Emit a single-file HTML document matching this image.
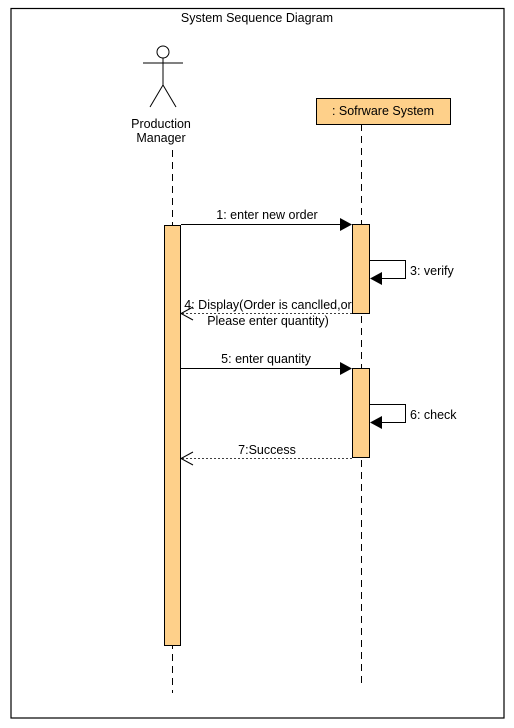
<!DOCTYPE html>
<html><head><style>
html,body{margin:0;padding:0;background:#fff;}
svg{display:block;}
text{font-family:"Liberation Sans",Arial,sans-serif;font-size:12.5px;fill:#000;}
</style></head><body>
<svg width="514" height="728" viewBox="0 0 514 728" xmlns="http://www.w3.org/2000/svg">
<rect x="11" y="8.5" width="493" height="709.5" fill="none" stroke="#000" stroke-width="1.2"/>
<text x="257" y="22" text-anchor="middle">System Sequence Diagram</text>
<g stroke="#000" stroke-width="1" fill="none">
<circle cx="163" cy="52" r="6" fill="#fff"/>
<line x1="163" y1="58" x2="163" y2="85"/>
<line x1="143" y1="63" x2="183" y2="63"/>
<line x1="163" y1="85" x2="150" y2="107"/>
<line x1="163" y1="85" x2="176" y2="107"/>
</g>
<text x="161" y="128" text-anchor="middle">Production</text>
<text x="161" y="142" text-anchor="middle">Manager</text>
<line x1="172.5" y1="150" x2="172.5" y2="693" stroke="#000" stroke-dasharray="7,5"/>
<line x1="361.5" y1="124" x2="361.5" y2="688" stroke="#000" stroke-dasharray="7,5"/>
<rect x="316.5" y="98.5" width="134" height="26" fill="#fed08a" stroke="#000"/>
<text x="383" y="115" text-anchor="middle">: Sofrware System</text>
<rect x="164.5" y="225.5" width="16" height="420" fill="#fed08a" stroke="#000"/>
<rect x="352.5" y="224.5" width="17" height="89" fill="#fed08a" stroke="#000"/>
<rect x="352.5" y="368.5" width="17" height="89" fill="#fed08a" stroke="#000"/>
<line x1="181" y1="224.5" x2="342" y2="224.5" stroke="#000"/>
<polygon points="340,218 352,224.5 340,231" fill="#000"/>
<text x="267" y="219" text-anchor="middle">1: enter new order</text>
<polyline points="370,260.5 405.5,260.5 405.5,278.5 380,278.5" fill="none" stroke="#000"/>
<polygon points="370,278.5 382,272 382,285" fill="#000"/>
<text x="410" y="275">3: verify</text>
<line x1="182" y1="313.5" x2="352" y2="313.5" stroke="#000" stroke-dasharray="2,2" stroke-width="0.8"/>
<polyline points="193,307 181,313.5 193,320" fill="none" stroke="#000"/>
<text x="268" y="309" text-anchor="middle">4: Display(Order is canclled,or</text>
<text x="268" y="325" text-anchor="middle">Please enter quantity)</text>
<line x1="181" y1="368.5" x2="342" y2="368.5" stroke="#000"/>
<polygon points="340,362 352,368.5 340,375" fill="#000"/>
<text x="266" y="363" text-anchor="middle">5: enter quantity</text>
<polyline points="370,404.5 405.5,404.5 405.5,422.5 380,422.5" fill="none" stroke="#000"/>
<polygon points="370,422.5 382,416 382,429" fill="#000"/>
<text x="410" y="419">6: check</text>
<line x1="182" y1="458.5" x2="352" y2="458.5" stroke="#000" stroke-dasharray="2,2" stroke-width="0.8"/>
<polyline points="193,452 181,458.5 193,465" fill="none" stroke="#000"/>
<text x="267" y="454" text-anchor="middle">7:Success</text>
</svg>
</body></html>
